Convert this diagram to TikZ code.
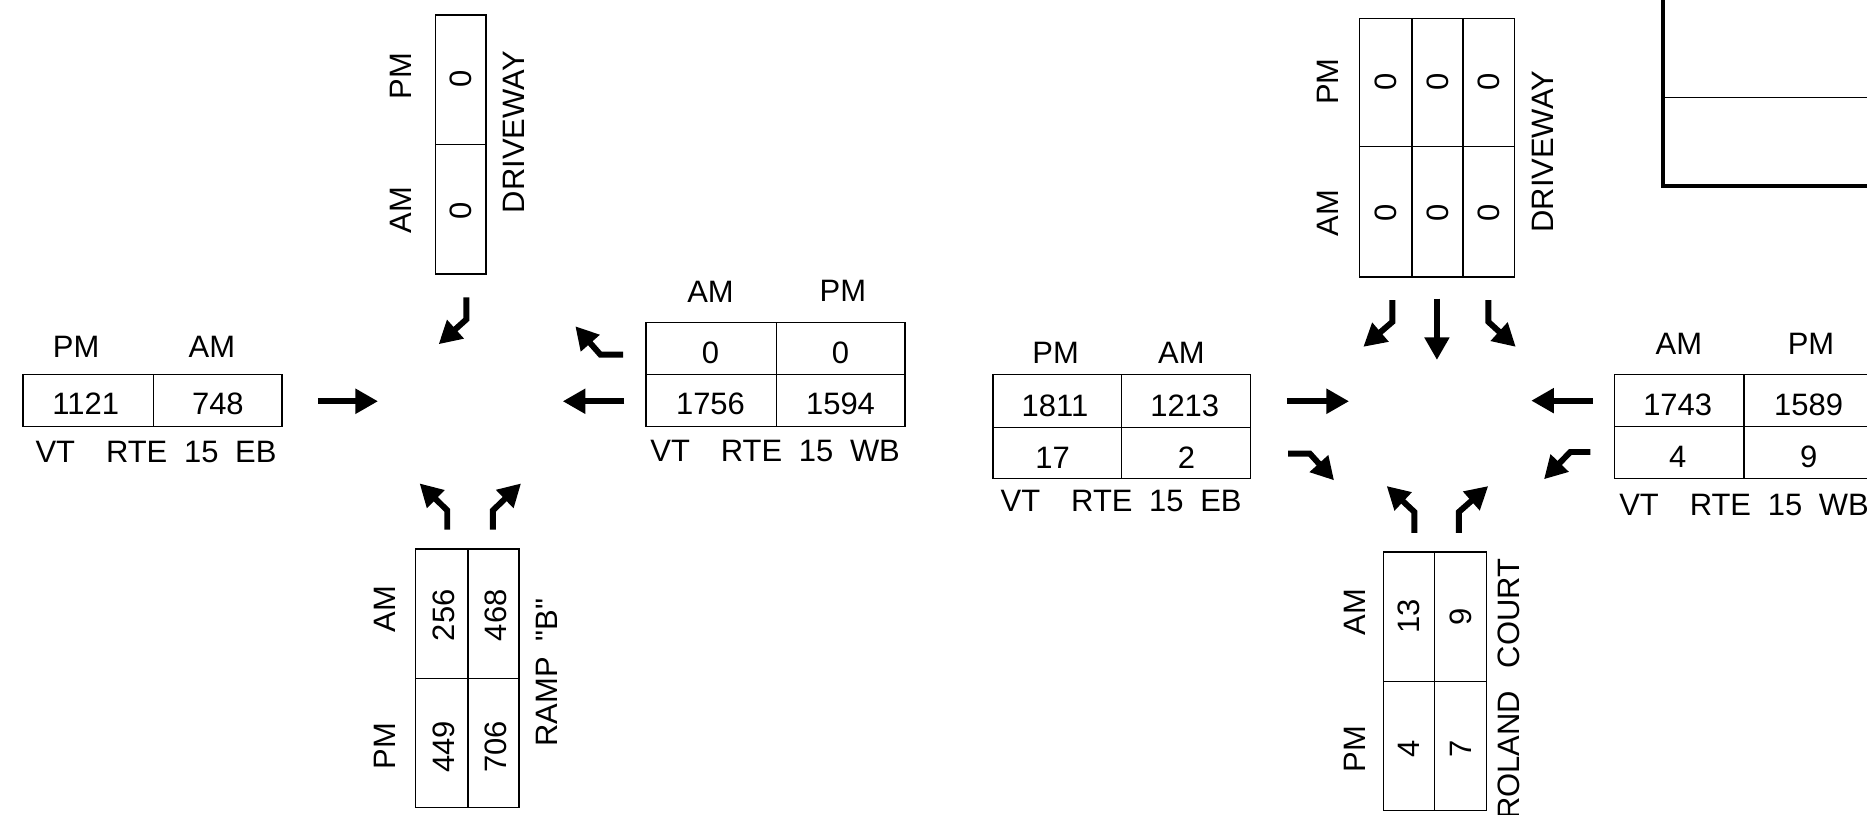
\documentclass[tikz,border=0pt]{standalone}
\usepackage{fontspec}
\newfontfamily\cadf{Liberation Sans}
\usetikzlibrary{arrows.meta}
\newcommand\rtelabel[1]{VT\hspace{26pt}RTE\hspace{14pt}15\hspace{14pt}#1}
\begin{document}
\begin{tikzpicture}[x=1pt,y=-1pt,
  grid/.style={line width=1.2pt},
  txt/.style={font=\cadf\fontsize{26}{30}\selectfont, inner sep=0pt},
  vtxt/.style={txt, rotate=90},
  mv/.style={line width=5pt, line join=miter, -{Triangle[length=19pt,width=20pt]}},
  ttl/.style={line width=3.4pt}]
\path[use as bounding box, clip] (0,0) rectangle (1568,684);

% ---------- title block corner ----------
\draw[ttl] (1397,-10) -- (1397,156) -- (1580,156);
\draw[line width=1pt] (1397,82) -- (1580,82);

% ================= LEFT INTERSECTION =================
% EB approach table
\draw[grid] (19.3,314.3) rectangle (237,358) (129,314.3) -- (129,358);
\node[txt] (lebpm) at (64,291.5) {PM};
\node[txt] (lebam) at (178,291.5) {AM};
\node[txt] (lebv1) at (72,339) {1121};
\node[txt] (lebv2) at (183,339) {748};
\node[txt] (leblbl) at (131,380) {\rtelabel{EB}};

% Driveway (north) table
\draw[grid] (365.7,12.6) rectangle (408,230) (365.7,121.3) -- (408,121.3);
\node[vtxt] (ldwpm) at (337,64) {PM};
\node[vtxt] (ldwam) at (337,176.5) {AM};
\node[vtxt] (ldwv1) at (387,66) {0};
\node[vtxt] (ldwv2) at (387,177) {0};
\node[vtxt] (ldwlbl) at (431.8,111) {DRIVEWAY};

% WB approach table
\draw[grid] (542.6,270.9) rectangle (760,358) (542.6,314.6) -- (760,314.6) (651.9,270.9) -- (651.9,358);
\node[txt] (lwbam) at (596.7,245.5) {AM};
\node[txt] (lwbpm) at (707.9,244.5) {PM};
\node[txt] (lwbv1) at (596.7,296) {0};
\node[txt] (lwbv2) at (705.9,296) {0};
\node[txt] (lwbv3) at (596.7,339.5) {1756};
\node[txt] (lwbv4) at (705.9,339.5) {1594};
\node[txt] (lwblbl) at (651,379) {\rtelabel{WB}};

% Ramp "B" (south) table
\draw[grid] (349,461) rectangle (436,678) (349,570) -- (436,570) (393,461) -- (393,678);
\node[vtxt] (lrpam) at (323.5,511.7) {AM};
\node[vtxt] (lrppm) at (323.5,626.6) {PM};
\node[vtxt] (lrpv1) at (372.5,516.8) {256};
\node[vtxt] (lrpv2) at (416.5,516.8) {468};
\node[vtxt] (lrpv3) at (372.5,627.4) {449};
\node[vtxt] (lrpv4) at (416.5,627.4) {706};
\node[vtxt] (lrplbl) at (459.4,565) {RAMP\hspace{13pt}"B"};

% movement arrows, left intersection
\draw[mv] (267,337) -- (317.5,337);
\draw[mv] (391.6,249.8) -- (391.6,268.3) -- (368.4,289.1);
\draw[mv] (524.4,337) -- (472.6,337);
\draw[mv] (523.3,297.8) -- (504.2,297.8) -- (483.2,274);
\draw[mv] (375.6,444.8) -- (375.6,428.6) -- (352.4,406);
\draw[mv] (414,444.8) -- (414,428.6) -- (437.6,406);

% ================= RIGHT INTERSECTION =================
% Driveway (north) table
\draw[grid] (1141.7,15.4) rectangle (1272,232.5) (1141.7,123) -- (1272,123)
  (1185.8,15.4) -- (1185.8,232.5) (1228.6,15.4) -- (1228.6,232.5);
\node[vtxt] (rdwpm) at (1115.4,68.6) {PM};
\node[vtxt] (rdwam) at (1115.4,179) {AM};
\node[vtxt] (rdwv1) at (1164,69) {0};
\node[vtxt] (rdwv2) at (1207.2,69) {0};
\node[vtxt] (rdwv3) at (1250.3,69) {0};
\node[vtxt] (rdwv4) at (1164,179) {0};
\node[vtxt] (rdwv5) at (1207.2,179) {0};
\node[vtxt] (rdwv6) at (1250.3,179) {0};
\node[vtxt] (rdwlbl) at (1295.4,127.5) {DRIVEWAY};

% EB approach table
\draw[grid] (834,314.3) rectangle (1050.4,401.8) (834,358.9) -- (1050.4,358.9) (942,314.3) -- (942,401.8);
\node[txt] (rebpm) at (886.6,296.5) {PM};
\node[txt] (rebam) at (992.2,296.5) {AM};
\node[txt] (rebv1) at (886,340.5) {1811};
\node[txt] (rebv2) at (995,340.5) {1213};
\node[txt] (rebv3) at (884,384.5) {17};
\node[txt] (rebv4) at (996.4,384.5) {2};
\node[txt] (reblbl) at (941.6,420.5) {\rtelabel{EB}};

% WB approach table
\draw[grid] (1356,314.3) rectangle (1574,402) (1356,358) -- (1574,358) (1464.7,314.3) -- (1464.7,402);
\node[txt] (rwbam) at (1410,288.5) {AM};
\node[txt] (rwbpm) at (1521,288.5) {PM};
\node[txt] (rwbv1) at (1409,340) {1743};
\node[txt] (rwbv2) at (1519,340) {1589};
\node[txt] (rwbv3) at (1409,383.5) {4};
\node[txt] (rwbv4) at (1519,383.5) {9};
\node[txt] (rwblbl) at (1464.7,424.5) {\rtelabel{WB}};

% Roland Court (south) table
\draw[grid] (1161.7,463.6) rectangle (1248.6,680.7) (1161.7,572.3) -- (1248.6,572.3) (1204.9,463.6) -- (1204.9,680.7);
\node[vtxt] (rrcam) at (1138,514) {AM};
\node[vtxt] (rrcpm) at (1138,629.4) {PM};
\node[vtxt] (rrcv1) at (1183.3,518) {13};
\node[vtxt] (rrcv2) at (1226.7,518) {9};
\node[vtxt] (rrcv3) at (1183.3,628.8) {4};
\node[vtxt] (rrcv4) at (1226.7,628.8) {7};
\node[vtxt, anchor=east] (rrclbl) at (1267.2,469) {ROLAND\hspace{19pt}COURT};

% movement arrows, right intersection
\draw[mv] (1169.4,252) -- (1169.4,270.3) -- (1145,291.3);
\draw[mv] (1206.8,250.7) -- (1206.8,302.3);
\draw[mv] (1250,252) -- (1250,270.3) -- (1273,291.3);
\draw[mv] (1080.7,337) -- (1133,337);
\draw[mv] (1081.8,380.9) -- (1100,380.9) -- (1120.4,403.4);
\draw[mv] (1338,336.5) -- (1286,336.5);
\draw[mv] (1335.6,379.6) -- (1318.8,379.6) -- (1296.7,402.5);
\draw[mv] (1187.9,447.6) -- (1187.9,430) -- (1164.6,408.2);
\draw[mv] (1225.2,447.6) -- (1225.2,430) -- (1249.9,408.2);
\end{tikzpicture}
\end{document}
